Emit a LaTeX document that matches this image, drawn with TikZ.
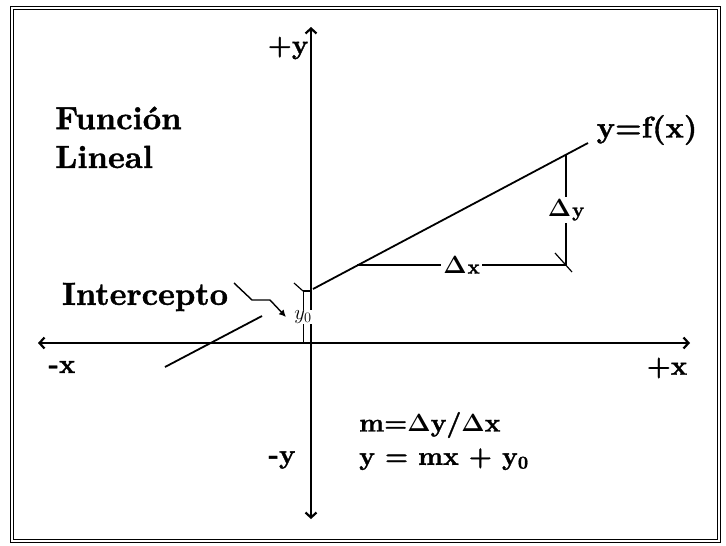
\documentclass[tikz,border=0pt]{standalone}
\usepackage{fontspec}
\newfontfamily\heavyfont{lmroman10-bold.otf}[FakeBold=1.2]
\usetikzlibrary{arrows.meta,positioning}
\tikzset{
    axis line/.style={
        line width=2.2pt,
        {Straight Barb[length=5pt,width=11pt]}-{Straight Barb[length=5pt,width=11pt]}
    },
    graph line/.style={line width=1.8pt},
    delta line/.style={line width=1.6pt},
    big label/.style={font=\fontsize{32}{38}\heavyfont, inner sep=1pt},
    axis label/.style={font=\fontsize{27}{30}\heavyfont, inner sep=1pt},
    eq label/.style={font=\fontsize{26}{30}\heavyfont\boldmath, inner sep=1pt},
    delta label/.style={font=\fontsize{27}{30}\heavyfont\boldmath, fill=white, inner sep=2pt}
}
\begin{document}
\begin{tikzpicture}[x=1pt,y=-1pt]
                \useasboundingbox (0,0) rectangle (726,546);
                \draw[double, line width=1pt, double distance=2pt] (12,8) rectangle (719,541);
                \coordinate (XL) at (38,343);
                \coordinate (XR) at (690,343);
                \coordinate (YT) at (311,27);
                \coordinate (YB) at (311,519);
                \draw[axis line] (XL) -- (XR);
                \draw[axis line] (YT) -- (YB);
                \coordinate (P1) at (165,367);
                \coordinate (P2) at (262,316);
                \coordinate (P3) at (313,289);
                \coordinate (P4) at (588,143);
                \draw[graph line] (P1) -- (P2);
                \draw[graph line] (P3) -- (P4);
                \coordinate (H) at (357,265);
                \coordinate (R) at (566,265);
                \coordinate (T) at (566,155);
                \draw[delta line] (H) -- node[delta label] (dx) {$\mathbf{\Delta}$\kern1pt{\fontsize{20}{24}\selectfont x}} (R);
                \draw[delta line] (T) -- node[delta label] (dy) {$\mathbf{\Delta}$\kern1pt{\fontsize{20}{24}\selectfont y}} (R);
                \draw[line width=1.2pt] ([shift={(-11,-12)}]R) -- ([shift={(6,7)}]R);
                \node[big label, anchor=west] (funcion) at (54,118) {Función};
                \node[big label, below=14pt of funcion.south west, anchor=north west] (lineal) {Lineal};
                \node[big label] (intercepto) at (145,297) {Intercepto};
                \coordinate (I1) at (234,283);
                \coordinate (I2) at (252,300);
                \coordinate (I3) at (270,300);
                \coordinate (I4) at (286,317);
                \draw[line width=1.4pt, -{Latex[length=7pt,width=7pt]}] (I1) -- (I2) -- (I3) -- (I4);
                \coordinate (Y0top) at (303,291);
                \coordinate (Y0bot) at (303,343);
                \draw[line width=1pt] (Y0top) -- node[fill=white, inner sep=0.5pt, font=\fontsize{20}{22}\selectfont] (yo) {$y_0$} (Y0bot);
                \draw[line width=1.2pt] (Y0top) -- ++(8,0);
                \draw[line width=1.2pt] ([shift={(-9,-8)}]Y0top) -- (Y0top);
                \node[axis label] (py) at (288,48) {+y};
                \node[axis label] (my) at (282,460) {-y};
                \node[axis label] (mx) at (62,367) {-x};
                \node[axis label] (px) at (667,368) {+x};
                \node[axis label, font=\fontsize{30}{34}\heavyfont] (fx) at (647,130) {y=f(x)};
                \node[eq label, anchor=west] (slope) at (358,425) {m=$\mathbf{\Delta}$y/$\mathbf{\Delta}$x};
                \node[eq label, below=8pt of slope.south west, anchor=north west] (recta) {y = mx + y\textsubscript{0}};
            \end{tikzpicture}
\end{document}
